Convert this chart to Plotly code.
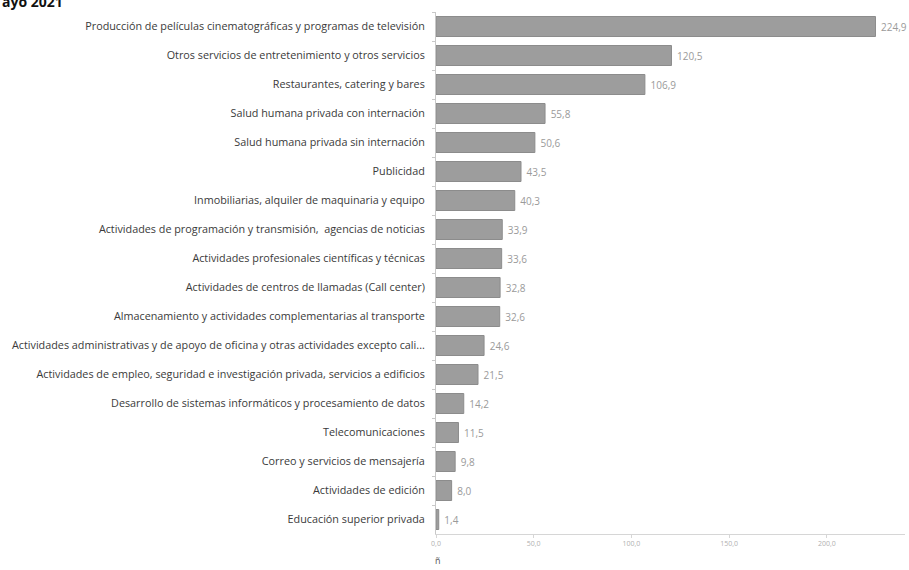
import plotly.graph_objects as go

categories = [
    "Producción de películas cinematográficas y programas de televisión",
    "Otros servicios de entretenimiento y otros servicios",
    "Restaurantes, catering y bares",
    "Salud humana privada con internación",
    "Salud humana privada sin internación",
    "Publicidad",
    "Inmobiliarias, alquiler de maquinaria y equipo",
    "Actividades de programación y transmisión,  agencias de noticias",
    "Actividades profesionales científicas y técnicas",
    "Actividades de centros de llamadas (Call center)",
    "Almacenamiento y actividades complementarias al transporte",
    "Actividades administrativas y de apoyo de oficina y otras actividades excepto cali...",
    "Actividades de empleo, seguridad e investigación privada, servicios a edificios",
    "Desarrollo de sistemas informáticos y procesamiento de datos",
    "Telecomunicaciones",
    "Correo y servicios de mensajería",
    "Actividades de edición",
    "Educación superior privada",
]
values = [224.9, 120.5, 106.9, 55.8, 50.6, 43.5, 40.3, 33.9, 33.6, 32.8,
          32.6, 24.6, 21.5, 14.2, 11.5, 9.8, 8.0, 1.4]
x_ticks = [0, 50, 100, 150, 200]
title_text = "ayo 2021"

fig = go.Figure(go.Bar(
    x=values,
    y=categories,
    orientation="h",
    marker=dict(color="#9d9d9d", line=dict(color="#8c8c8c", width=1)),
    texttemplate="\u00a0%{x:.1f}",
    textposition="outside",
    textfont=dict(family="Open Sans", size=10, color="#9a9a9a"),
    cliponaxis=False,
))

fig.update_layout(
    width=909, height=570,
    margin=dict(l=436, r=4, t=12, b=36),
    paper_bgcolor="white", plot_bgcolor="white",
    separators=",.",
    bargap=0.31,
    showlegend=False,
    font=dict(family="Open Sans", color="#444444"),
)
fig.update_yaxes(
    autorange="reversed",
    automargin=False,
    tickfont=dict(family="Open Sans", size=10.8, color="#3a3a3a"),
    showline=True, linecolor="#c8c8c8", linewidth=1,
    ticks="outside", ticklen=3, tickcolor="#c8c8c8", tickson="boundaries",
    ticklabelstandoff=8,
    showgrid=False,
)
fig.update_xaxes(
    range=[0, 240],
    automargin=False,
    tickvals=x_ticks,
    tickformat=".1f",
    tickfont=dict(family="Open Sans", size=7, color="#b0b0b0"),
    showline=True, linecolor="#d6d6d6", linewidth=1,
    ticks="outside", ticklen=3, tickcolor="#d6d6d6",
    showgrid=False, zeroline=False,
)
fig.add_annotation(
    text="<b>" + title_text + "</b>",
    xref="paper", yref="paper",
    x=-436 / 469, y=1.02, xanchor="left", yanchor="middle",
    showarrow=False,
    font=dict(family="Open Sans", size=14, color="#111111"),
)
fig.add_annotation(
    text="ñ", xref="paper", yref="paper",
    x=0.005, y=-0.05, xanchor="center", yanchor="middle",
    showarrow=False, font=dict(family="Open Sans", size=9, color="#555555"),
)

fig.write_html("out.html", config={"displayModeBar": False},
               post_script="document.body.style.margin='0';")
